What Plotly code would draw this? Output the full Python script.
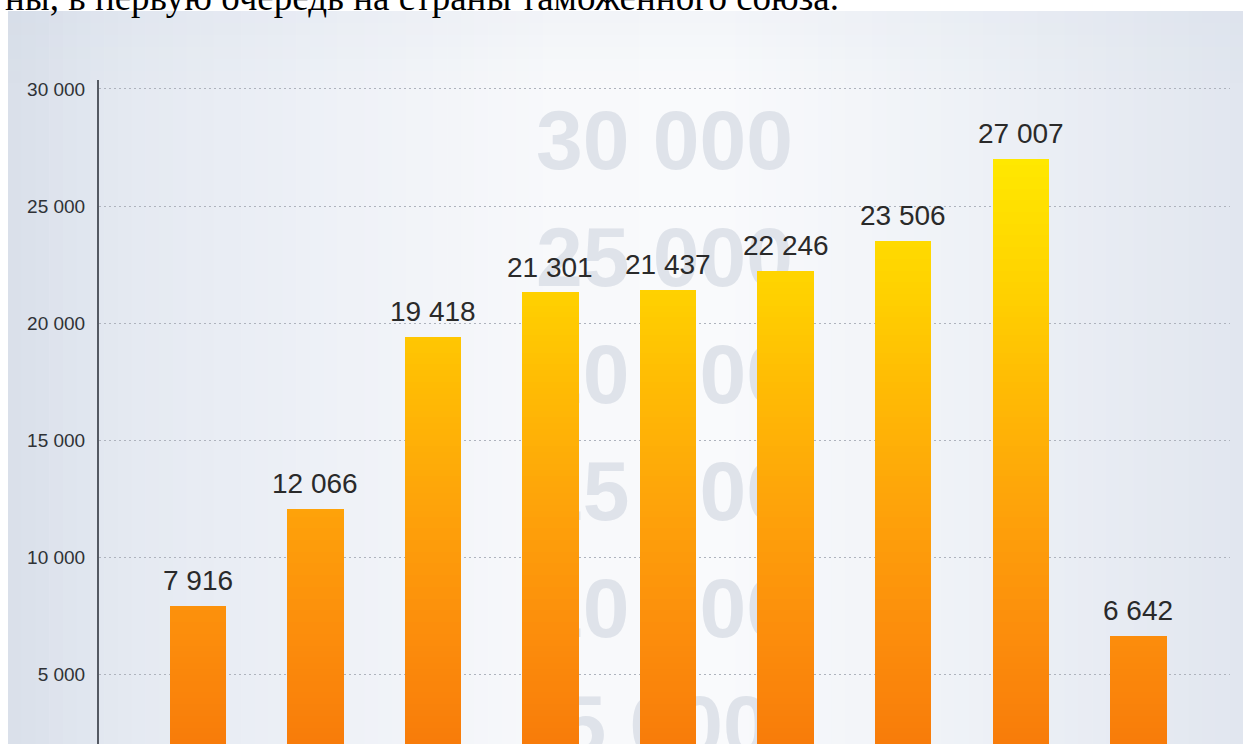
import plotly.graph_objects as go

# ---------------- data ----------------
categories = ["1", "2", "3", "4", "5", "6", "7", "8", "9"]
values = [7916, 12066, 19418, 21301, 21437, 22246, 23506, 27007, 6642]
tick_values = [5000, 10000, 15000, 20000, 25000, 30000]
watermark_labels = ["30 000", "25 000", "20 000", "15 000", "10 000", "5 000"]
header_text = "ны, в первую очередь на страны таможенного союза."

# ---------------- geometry / style ----------------
W, H = 1243, 744
ML, MR, MT, MB = 99, 13, 80, 0
PW, PH = W - ML - MR, H - MT - MB
Y_RANGE = [2048, 30380]
X_RANGE = [-0.84, 8.78]
BAR_W = 0.48


def px_to_paper_x(px):
    return (px - ML) / PW


def py_to_paper_y(py):
    return (H - MB - py) / PH


def lerp(a, b, t):
    return tuple(a[i] + (b[i] - a[i]) * t for i in range(3))


def interp_stops(stops, x):
    if x <= stops[0][0]:
        return stops[0][1]
    for (x0, c0), (x1, c1) in zip(stops[:-1], stops[1:]):
        if x0 <= x <= x1:
            return lerp(c0, c1, (x - x0) / (x1 - x0))
    return stops[-1][1]


def rgb(c):
    return "rgb(%d,%d,%d)" % tuple(int(round(v)) for v in c)


# background gradient (scanned picture area)
bg_stops = [
    (8, (217, 223, 234)),
    (120, (228, 233, 241)),
    (330, (238, 241, 247)),
    (560, (248, 249, 251)),
    (720, (249, 250, 252)),
    (950, (239, 242, 247)),
    (1243, (225, 230, 239)),
]
shapes = []
N = 90
x0_px, x1_px = 8, W
for i in range(N):
    a = x0_px + (x1_px - x0_px) * i / N
    b = x0_px + (x1_px - x0_px) * (i + 1) / N + 0.6
    c = interp_stops(bg_stops, (a + b) / 2)
    shapes.append(dict(type="rect", xref="paper", yref="paper",
                       x0=px_to_paper_x(a), x1=px_to_paper_x(b),
                       y0=py_to_paper_y(H), y1=py_to_paper_y(11),
                       fillcolor=rgb(c), line=dict(width=0), layer="below"))
# slight darkening at the top band
for i in range(6):
    shapes.append(dict(type="rect", xref="paper", yref="paper",
                       x0=px_to_paper_x(8), x1=px_to_paper_x(W),
                       y0=py_to_paper_y(11 + 12 * (i + 1)), y1=py_to_paper_y(11 + 12 * i),
                       fillcolor="rgba(200,208,222,%.3f)" % (0.10 * (1 - i / 6)),
                       line=dict(width=0), layer="below"))

fig = go.Figure()

# watermark numbers behind bars (main subplot)
fig.add_trace(go.Scatter(
    x=[3.97] * len(watermark_labels),
    y=[t - 2500 for t in reversed(tick_values)],
    mode="text", text=watermark_labels,
    textfont=dict(family="Liberation Sans", size=84, color="#dfe3ea", weight="bold"),
    hoverinfo="skip", showlegend=False, xaxis="x", yaxis="y",
))

# bars with vertical orange->yellow gradient (overlay subplot)
bar_stops = [
    (2000, (248, 124, 10)),
    (7000, (252, 142, 12)),
    (12000, (254, 162, 10)),
    (17500, (255, 188, 4)),
    (21500, (255, 210, 0)),
    (27500, (255, 234, 0)),
]
step = 250
lo = 0
while lo < max(values):
    seg = [min(max(v - lo, 0), step) for v in values]
    col = interp_stops(bar_stops, lo + step / 2)
    fig.add_trace(go.Bar(
        x=categories, y=seg, base=[lo] * len(values), width=BAR_W,
        marker=dict(color=rgb(col), line=dict(width=0)),
        hoverinfo="skip", showlegend=False, xaxis="x2", yaxis="y2",
    ))
    lo += step

# value labels
annotations = []
for i, v in enumerate(values):
    annotations.append(dict(
        x=i, y=v, xref="x2", yref="y2", text=f"{v:,}".replace(",", " "),
        showarrow=False, yanchor="bottom", xanchor="center", yshift=8,
        font=dict(family="Liberation Sans", size=28, color="#2a2a2a"),
    ))

annotations.append(dict(
    x=px_to_paper_x(3), y=py_to_paper_y(-3), xref="paper", yref="paper",
    text=header_text, showarrow=False, xanchor="left", yanchor="middle",
    font=dict(family="Liberation Serif", size=37, color="#000000"),
))

fig.update_layout(
    width=W, height=H,
    margin=dict(l=ML, r=MR, t=MT, b=MB, pad=0),
    paper_bgcolor="white", plot_bgcolor="rgba(0,0,0,0)",
    separators=". ",
    barmode="overlay", bargap=0,
    shapes=shapes, annotations=annotations,
    showlegend=False,
    xaxis=dict(range=X_RANGE, visible=False, showgrid=False, zeroline=False, fixedrange=True),
    yaxis=dict(range=Y_RANGE, tickvals=tick_values, tickformat=",d",
               showgrid=True, gridcolor="#aeb3bd", gridwidth=1, griddash="2px,3px",
               zeroline=False, showline=True, linecolor="#555a63", linewidth=2,
               ticks="", ticklabelstandoff=8,
               tickfont=dict(family="Liberation Sans", size=19, color="#2f3236")),
    xaxis2=dict(type="category", categoryarray=categories, categoryorder="array",
                range=X_RANGE, overlaying="x", visible=False, showgrid=False),
    yaxis2=dict(range=Y_RANGE, overlaying="y", visible=False, showgrid=False, zeroline=False),
)

fig.write_html("out.html", config={"displayModeBar": False},
               post_script="document.body.style.margin='0px';")
